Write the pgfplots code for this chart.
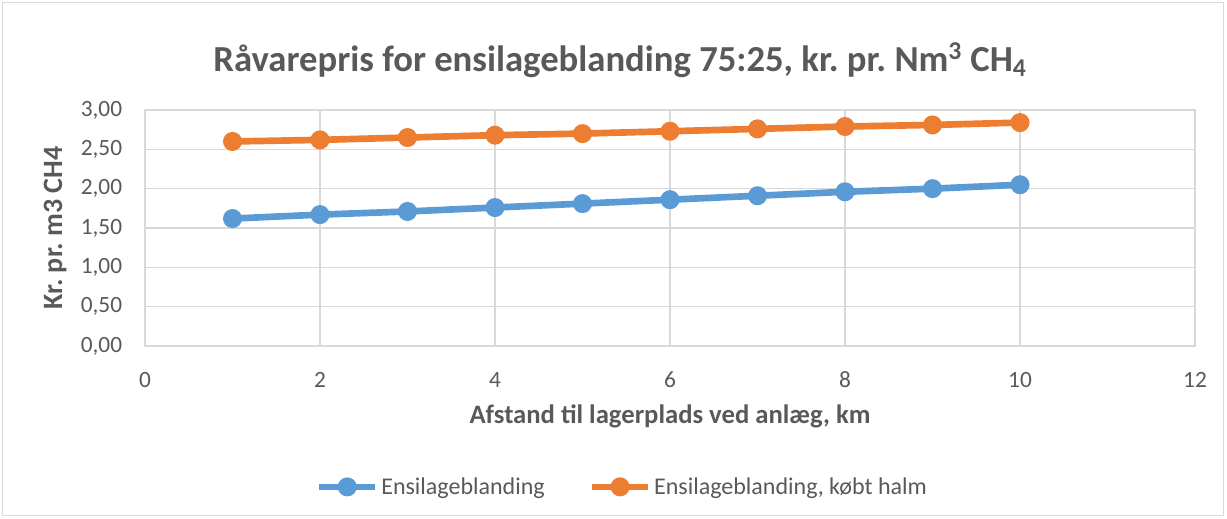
\documentclass[border=0pt]{standalone}
\usepackage{fontspec}
\setmainfont{Carlito}
\usepackage{pgfplots}
\pgfplotsset{compat=1.18}
\definecolor{txtgray}{HTML}{595959}
\definecolor{gridgray}{HTML}{D9D9D9}
\definecolor{xlblue}{HTML}{5B9BD5}
\definecolor{xlorange}{HTML}{ED7D31}

\begin{document}
\frenchspacing
\begin{tikzpicture}
\path[use as bounding box] (0,0) rectangle (920.25pt,388.5pt);
\draw[gridgray, line width=0.75pt] (2pt,2pt) rectangle (917.5pt,386.5pt);
\node[text=txtgray, font=\fontsize{27.5}{32}\selectfont\bfseries]
  at (465pt,343.5pt) {Råvarepris for ensilageblanding 75:25, kr. pr. Nm\textsuperscript{3} CH\textsubscript{4}};
\begin{axis}[
  at={(108.75pt,129pt)}, anchor=south west,
  scale only axis, width=787.5pt, height=177pt,
  xmin=0, xmax=12, ymin=0, ymax=3,
  xtick={0,2,...,12}, ytick={0,0.5,...,3},
  grid=major, grid style={gridgray, line width=0.9pt},
  axis line style={gridgray, line width=0.9pt},
  major tick length=0pt,
  /pgf/number format/assume math mode=true,
  ticklabel style={text=txtgray, font=\fontsize{17.5}{21}\selectfont},
  yticklabel style={/pgf/number format/use comma, /pgf/number format/fixed,
    /pgf/number format/fixed zerofill, /pgf/number format/precision=2,
    anchor=east, inner sep=0pt, xshift=-17pt},
  xticklabel style={anchor=center, inner sep=0pt, yshift=-25.5pt},
  xlabel={Afstand til lagerplads ved anlæg, km},
  ylabel={Kr. pr. m3 CH4},
  label style={text=txtgray, font=\fontsize{20}{24}\selectfont\bfseries},
  xlabel style={at={(axis description cs:0.5,-0.3)}, anchor=center},
  ylabel style={at={(axis description cs:-0.0857,0.5)}, anchor=center, rotate=0,
    font=\fontsize{21}{25}\selectfont\bfseries},
  legend columns=2,
  legend style={draw=none, at={(0.455,-0.597)}, anchor=center,
    font=\fontsize{18}{22}\selectfont, text=txtgray,
    /tikz/every even column/.append style={column sep=31pt}},
  legend cell align=left,
  legend image code/.code={
    \draw[#1, mark repeat=2, mark phase=2] plot coordinates {(0pt,0pt) (21pt,0pt) (42pt,0pt)};},
  every axis plot/.append style={line width=5pt, mark=*, mark size=4.6pt,
    mark options={solid, line width=0pt}},
]
\addplot[xlblue, mark options={fill=xlblue, draw=xlblue}] coordinates {
  (1,1.62) (2,1.67) (3,1.71) (4,1.76) (5,1.81)
  (6,1.86) (7,1.91) (8,1.96) (9,2.00) (10,2.05)};
\addlegendentry{Ensilageblanding}
\addplot[xlorange, mark options={fill=xlorange, draw=xlorange}] coordinates {
  (1,2.60) (2,2.62) (3,2.65) (4,2.68) (5,2.70)
  (6,2.73) (7,2.76) (8,2.79) (9,2.81) (10,2.84)};
\addlegendentry{Ensilageblanding, købt halm}
\end{axis}
\end{tikzpicture}
\end{document}
